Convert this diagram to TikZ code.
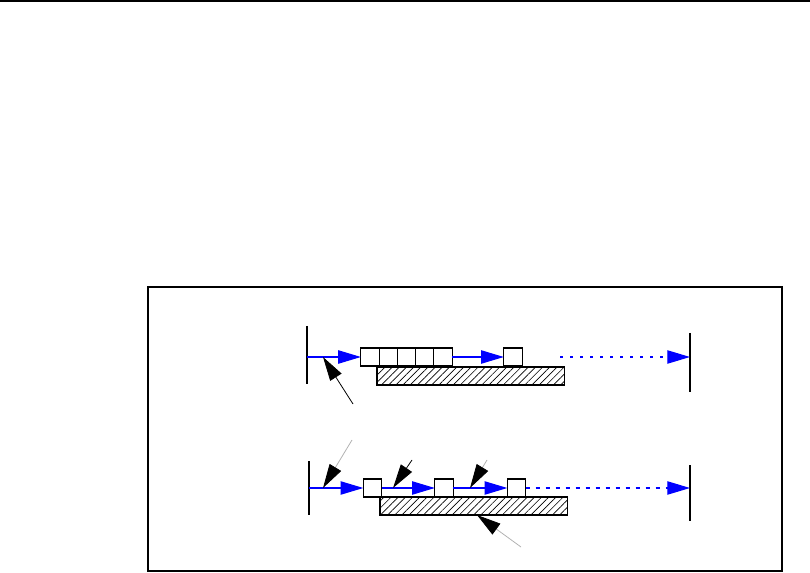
\documentclass[tikz,border=0pt]{standalone}
\usetikzlibrary{arrows.meta,patterns.meta}
\begin{document}
\begin{tikzpicture}[x=0.75pt,y=-0.75pt,>=Latex,
  cell/.style={draw,line width=0.8pt,fill=white,inner sep=0pt,outer sep=0pt,minimum width=13.8pt,minimum height=13.5pt},
  slab/.style={draw,line width=0.8pt,inner sep=0pt,outer sep=0pt,minimum width=140.3pt,minimum height=13.5pt,pattern={Lines[angle=45,distance=3.8pt,line width=0.5pt]}},
  flow/.style={blue,line width=0.8pt,-{Triangle[length=17pt,width=10pt]}},
  ptr/.style={line width=0.6pt,-{Triangle[length=18pt,width=10pt]}}]
\useasboundingbox (0,0) rectangle (810,573);
\draw[line width=1.5pt] (0,1) -- (810,1);
\draw[line width=1pt] (148,287) rectangle (782,571);
% upper row
\coordinate (ua) at (307,357);
\coordinate (ub) at (560,357);
\coordinate (uc) at (690,357);
\draw[line width=0.8pt] (307,326) -- (307,384);
\draw[line width=0.8pt] (690,333) -- (690,392);
\node[slab] (uslab) at (470.5,376) {};
\foreach \i/\x in {1/370.1,2/388.3,3/406.5,4/424.7,5/442.9}
  \node[cell] (u\i) at (\x,357) {};
\node[cell] (u6) at (513,357) {};
\draw[flow] (ua) -- (u1.west);
\draw[flow] (u5.east) -- (u6.west);
\draw[flow,dash pattern=on 2pt off 5.5pt] (ub) -- (uc);
\coordinate (up) at (353,404);
\draw[ptr] (up) -- (323,357);
% lower row
\coordinate (la) at (309,488);
\coordinate (lc) at (690,488);
\draw[line width=0.8pt] (309,461) -- (309,515);
\draw[line width=0.8pt] (690,465) -- (690,521);
\node[slab] (lslab) at (473.5,506) {};
\node[cell] (l1) at (372.5,488) {};
\node[cell] (l2) at (444,488) {};
\node[cell] (l3) at (516.5,488) {};
\draw[flow] (la) -- (l1.west);
\draw[flow] (l1.east) -- (l2.west);
\draw[flow] (l2.east) -- (l3.west);
\draw[flow,dash pattern=on 3pt off 4.5pt] (l3.east) -- (lc);
\coordinate (lp1) at (352,440);
\coordinate (lp2) at (412,460);
\coordinate (lp3) at (487,460);
\coordinate (lp4) at (521,547);
\draw[ptr,gray!60,arrows={-{Triangle[length=18pt,width=10pt,black]}}] (lp1) -- (323,488);
\draw[ptr] (lp2) -- (393,488);
\draw[ptr,gray!60,arrows={-{Triangle[length=18pt,width=10pt,black]}}] (lp3) -- (470,488);
\draw[ptr,gray!60,arrows={-{Triangle[length=18pt,width=10pt,black]}}] (lp4) -- (477,515);
\end{tikzpicture}
\end{document}
